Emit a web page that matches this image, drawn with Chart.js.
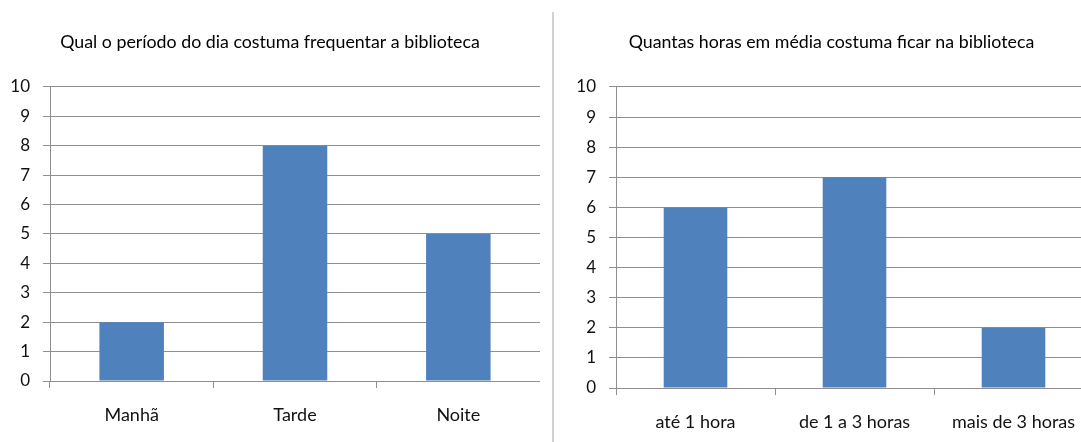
<!DOCTYPE html>
<html>
<head>
<meta charset="utf-8">
<script src="https://cdn.jsdelivr.net/npm/chart.js@4"></script>
<style>
  body { margin: 0; background: #fff; overflow: hidden; width: 1081px; height: 442px; position: relative; }
  .box { position: absolute; top: 0; }
  #divisor { position: absolute; left: 552px; top: 12px; width: 2px; height: 430px; background: #d2d2d2; }
</style>
</head>
<body>
<div class="box" style="left:0px"><canvas class="meu-chart1" width="540" height="442"></canvas></div>
<div id="divisor"></div>
<div class="box" style="left:570px"><canvas class="meu-chart2" width="523" height="442"></canvas></div>
<script>
const periodos = ["Manhã", "Tarde", "Noite"];
const periodoValores = [2, 8, 5];

const horas = ["até 1 hora", "de 1 a 3 horas", "mais de 3 horas"];
const horasValores = [6, 7, 2];

const yMin = 0;
const yMax = 10;
const yPasso = 1;

const fonte = "Lato, 'Open Sans', sans-serif";
const cinza = "#8f8f8f";

function opcoes(titulo, larguraY, alturaX) {
    return {
        responsive: false,
        animation: false,
        layout: { padding: 0 },
        plugins: {
            legend: { display: false },
            tooltip: { enabled: false },
            title: {
                display: true,
                text: titulo,
                color: "#000",
                font: { family: fonte, size: 17.8, weight: "normal", lineHeight: 1.2 },
                padding: { top: 32, bottom: 33.6 },
            },
        },
        scales: {
            x: {
                z: 1, // eixo por cima das barras, como no Excel
                grid: { offset: true, drawOnChartArea: false, color: cinza, tickLength: 7 },
                border: { color: cinza },
                ticks: { color: "#111", font: { family: fonte, size: 18 }, padding: 16 },
                afterFit: (s) => { s.height = alturaX; },
            },
            y: {
                min: yMin,
                max: yMax,
                grid: { color: cinza, tickLength: 7 },
                border: { color: cinza },
                ticks: { stepSize: yPasso, color: "#111", font: { family: fonte, size: 17 }, padding: 13 },
                afterFit: (s) => { s.width = larguraY; },
            },
        },
    };
}

new Chart(document.querySelector(".meu-chart1"), {
    type: "bar",
    data: {
        labels: periodos,
        datasets: [
            {
                label: "Período",
                data: periodoValores,
                backgroundColor: "#4f81bd",
                categoryPercentage: 1,
                barPercentage: 0.395,
            },
        ],
    },
    options: opcoes("Qual o período do dia costuma frequentar a biblioteca", 50, 61),
});

new Chart(document.querySelector(".meu-chart2"), {
    type: "bar",
    data: {
        labels: horas,
        datasets: [
            {
                label: "Horas",
                data: horasValores,
                backgroundColor: "#4f81bd",
                categoryPercentage: 1,
                barPercentage: 0.4,
            },
        ],
    },
    options: opcoes("Quantas horas em média costuma ficar na biblioteca", 46, 54),
});
</script>
</body>
</html>
